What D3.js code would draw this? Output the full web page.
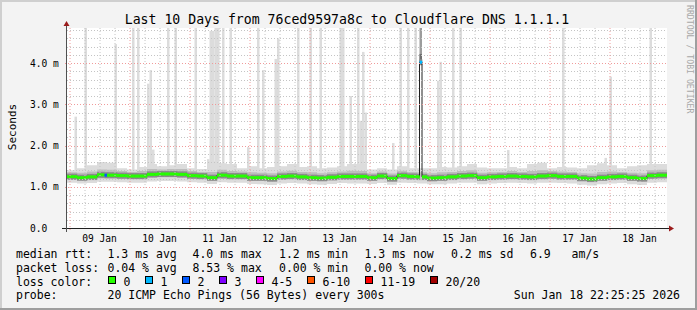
<!DOCTYPE html>
<html>
<head>
<meta charset="utf-8">
<script src="https://cdn.jsdelivr.net/npm/d3@7"></script>
<style>
  body { margin: 0; background: #f3f3f3; }
  svg { display: block; }
  text { font-family: "DejaVu Sans Mono", monospace; fill: #000; }
</style>
</head>
<body>
<svg id="chart" width="697" height="310"></svg>
<script>
// ---- data (values in ms) ----
const TITLE = 'Last 10 Days from 76ced9597a8c to Cloudflare DNS 1.1.1.1';
const START = Date.UTC(2026, 0, 8, 23);
const END = Date.UTC(2026, 0, 18, 23);
const BIN_HOURS = 4;   // smoke / median bins are 4 hours wide

const medianBins = [
  1.245, 1.22, 1.24, 1.29, 1.28, 1.27, 1.26, 1.26, 1.30, 1.31,
  1.31, 1.30, 1.27, 1.26, 1.22, 1.28, 1.26, 1.26, 1.22, 1.22,
  1.20, 1.25, 1.26, 1.24, 1.22, 1.21, 1.23, 1.25, 1.25, 1.25,
  1.22, 1.26, 1.20, 1.27, 1.25, 1.24, 1.21, 1.22, 1.24, 1.26,
  1.27, 1.22, 1.24, 1.25, 1.26, 1.25, 1.24, 1.26, 1.27, 1.25,
  1.25, 1.21, 1.19, 1.22, 1.24, 1.25, 1.22, 1.20, 1.27, 1.28
];
const smokeHi = [
  1.40, 1.45, 1.52, 1.60, 1.58, 1.45, 1.42, 1.48, 1.55, 1.50,
  1.52, 1.55, 1.45, 1.43, 1.62, 1.57, 1.55, 1.45, 1.50, 1.45,
  1.48, 1.50, 1.55, 1.48, 1.50, 1.45, 1.47, 1.50, 1.55, 1.55,
  1.42, 1.45, 1.42, 1.50, 1.45, 1.45, 1.45, 1.48, 1.47, 1.50,
  1.55, 1.47, 1.45, 1.45, 1.48, 1.45, 1.55, 1.58, 1.45, 1.48,
  1.47, 1.45, 1.52, 1.57, 1.52, 1.45, 1.50, 1.52, 1.55, 1.55
];
const smokeLo = [
  1.10, 1.08, 1.09, 1.12, 1.12, 1.11, 1.10, 1.10, 1.13, 1.14,
  1.14, 1.13, 1.11, 1.10, 1.07, 1.11, 1.10, 1.10, 1.07, 1.06,
  1.04, 1.08, 1.09, 1.08, 1.06, 1.05, 1.07, 1.09, 1.08, 1.08,
  1.07, 1.09, 1.05, 1.10, 1.09, 1.08, 1.06, 1.06, 1.08, 1.10,
  1.10, 1.06, 1.08, 1.09, 1.10, 1.09, 1.08, 1.10, 1.10, 1.09,
  1.08, 1.05, 1.03, 1.06, 1.08, 1.09, 1.06, 1.04, 1.10, 1.11
];
const midHi = [
  1.35, 1.34, 1.37, 1.42, 1.41, 1.38, 1.36, 1.38, 1.43, 1.42,
  1.43, 1.43, 1.38, 1.36, 1.36, 1.41, 1.38, 1.37, 1.35, 1.34,
  1.33, 1.37, 1.39, 1.36, 1.35, 1.33, 1.35, 1.37, 1.39, 1.38,
  1.33, 1.37, 1.32, 1.39, 1.36, 1.35, 1.33, 1.35, 1.36, 1.38,
  1.40, 1.34, 1.35, 1.36, 1.38, 1.36, 1.38, 1.40, 1.38, 1.37,
  1.36, 1.33, 1.32, 1.36, 1.37, 1.36, 1.34, 1.33, 1.40, 1.41
];
const midLo = [
  1.17, 1.15, 1.16, 1.20, 1.20, 1.19, 1.18, 1.18, 1.22, 1.23,
  1.23, 1.22, 1.19, 1.18, 1.14, 1.19, 1.18, 1.18, 1.14, 1.14,
  1.12, 1.17, 1.18, 1.16, 1.14, 1.13, 1.15, 1.17, 1.17, 1.17,
  1.14, 1.18, 1.12, 1.19, 1.17, 1.16, 1.13, 1.14, 1.16, 1.18,
  1.19, 1.14, 1.16, 1.17, 1.18, 1.17, 1.16, 1.18, 1.19, 1.17,
  1.17, 1.13, 1.11, 1.14, 1.16, 1.17, 1.14, 1.12, 1.19, 1.20
];

// single-hour max-rtt spikes (hour from START, top in ms; 5 = off the top)
const spikeHours = [3, 7, 19, 26, 28, 32, 33, 34, 40, 43, 51, 56, 57, 58, 59, 60,
  62, 65, 72, 76, 78, 83, 84, 92, 97, 101, 109, 110, 113, 116, 117, 118, 119,
  130, 133, 136, 139, 148, 149, 154, 157, 176, 198, 215, 217, 233];
const spikeTops = [2.70, 5, 4.46, 5, 5, 3.5, 3.83, 1.9, 5, 5, 5, 1.67, 4.78, 4.78, 5, 5,
  5, 5, 1.96, 5, 3.83, 4.1, 4.6, 5, 5, 5, 5, 5, 3.2, 5, 2.6, 4.27, 2.8,
  2.06, 5, 5, 5, 3.57, 4.03, 5, 5, 1.89, 5, 1.7, 3.67, 5];

// hours with packet loss (median, loss class, smoke above)
const eventHours = [15, 141];
const eventMedian = [1.28, 4.02];
const eventLoss = [2, 1];
const eventSmokeHi = [null, 5];
const eventMidHi = [null, 4.22];

const yMajor = [0, 1, 2, 3, 4];
const lossLabels = ['0', '1', '2', '3', '4-5', '6-10', '11-19', '20/20'];
const lossColors = ['#26ff00', '#00b8ff', '#0059ff', '#7e00ff', '#ff00ff', '#ff5500', '#ff0000', '#a10000'];
const lossBoxX = [108.5, 145.5, 182.5, 219.5, 256.5, 307.5, 365.5, 430.5];

const rttLabels = ['1.3 ms avg', '4.0 ms max', '1.2 ms min', '1.3 ms now', '0.2 ms sd', '6.9   am/s'];
const lossTexts = ['0.04 % avg', '8.53 % max', '0.00 % min', '0.00 % now'];
const statX = [107.5, 192.5, 279, 364.5, 451, 530];

// ---- layout ----
const W = 697, H = 310;
const PLOT = { left: 67, right: 667, top: 28, bottom: 228 };
const HOUR = 3600e3;
const tAt = h => new Date(START + h * HOUR);

const x = d3.scaleUtc().domain([START, END]).range([PLOT.left, PLOT.right]);
const y = d3.scaleLinear().domain([0, 4.85]).range([PLOT.bottom, PLOT.top]);

const svg = d3.select('#chart');

// frame
svg.append('rect').attr('width', W).attr('height', H).attr('fill', '#f3f3f3');
svg.append('rect').attr('x', 0).attr('y', 0).attr('width', W).attr('height', 2).attr('fill', '#cfcfcf');
svg.append('rect').attr('x', 0).attr('y', 0).attr('width', 2).attr('height', H).attr('fill', '#cfcfcf');
svg.append('rect').attr('x', 0).attr('y', H - 2).attr('width', W).attr('height', 2).attr('fill', '#9e9e9e');
svg.append('rect').attr('x', W - 2).attr('y', 0).attr('width', 2).attr('height', H).attr('fill', '#9e9e9e');

svg.append('clipPath').attr('id', 'plotClip')
  .append('rect')
  .attr('x', PLOT.left).attr('y', PLOT.top)
  .attr('width', PLOT.right - PLOT.left).attr('height', PLOT.bottom - PLOT.top);

svg.append('rect')
  .attr('x', PLOT.left).attr('y', PLOT.top)
  .attr('width', PLOT.right - PLOT.left).attr('height', PLOT.bottom - PLOT.top)
  .attr('fill', '#ffffff');

const plot = svg.append('g').attr('clip-path', 'url(#plotClip)');

// table of bins (last one repeated so the step reaches the right edge)
const bins = medianBins.map((m, i) => ({
  t: tAt(i * BIN_HOURS), m, hi: smokeHi[i], lo: smokeLo[i], mh: midHi[i], ml: midLo[i]
}));
bins.push(Object.assign({}, bins[bins.length - 1], { t: new Date(END) }));

// hourly median with loss class
const nHours = (END - START) / HOUR;
const hourly = d3.range(nHours).map(h => {
  const e = eventHours.indexOf(h);
  return {
    h,
    m: e >= 0 ? eventMedian[e] : medianBins[Math.floor(h / BIN_HOURS)],
    loss: e >= 0 ? eventLoss[e] : 0,
    smokeHi: e >= 0 ? eventSmokeHi[e] : null,
    midHi: e >= 0 ? eventMidHi[e] : null
  };
});
const hw = h => x(tAt(h + 1)) - x(tAt(h));

// spikes of the lightest smoke
plot.append('g').selectAll('rect')
  .data(spikeHours.map((h, i) => ({ h, top: spikeTops[i] })))
  .join('rect')
  .attr('x', d => x(tAt(d.h)))
  .attr('width', d => hw(d.h))
  .attr('y', d => y(d.top))
  .attr('height', d => y(hourly[d.h].m) - y(d.top))
  .attr('fill', '#dcdcdc');

// smoke bands
const band = (lo, hi) => d3.area().curve(d3.curveStepAfter)
  .x(d => x(d.t)).y0(d => y(d[lo])).y1(d => y(d[hi]));

plot.append('path').datum(bins).attr('d', band('lo', 'hi')).attr('fill', '#dcdcdc');
plot.append('path').datum(bins).attr('d', band('ml', 'mh')).attr('fill', '#bdbdbd');

// smoke above loss events
const ev = hourly.filter(d => d.smokeHi !== null);
plot.append('g').selectAll('rect.evs')
  .data(ev).join('rect')
  .attr('x', d => x(tAt(d.h))).attr('width', d => hw(d.h))
  .attr('y', d => y(d.smokeHi)).attr('height', d => y(d.m) - y(d.smokeHi))
  .attr('fill', '#9c9c9c');
plot.append('g').selectAll('rect.evm')
  .data(ev).join('rect')
  .attr('x', d => x(tAt(d.h))).attr('width', d => hw(d.h))
  .attr('y', d => y(d.midHi)).attr('height', d => y(d.m) - y(d.midHi))
  .attr('fill', '#6e6e6e');

// dark smoke right around the median
plot.append('g').selectAll('rect')
  .data(hourly).join('rect')
  .attr('x', d => x(tAt(d.h))).attr('width', d => hw(d.h) + 0.3)
  .attr('y', d => y(d.m) - 3).attr('height', 6)
  .attr('fill', '#8a8a8a');

// grid
const grid = svg.append('g');
const sixHours = d3.utcHour.every(6).range(new Date(START), new Date(END + 1))
  .filter(d => d.getUTCHours() !== 0);
const days = d3.utcDay.range(new Date(START), new Date(END + 1));

grid.selectAll('line.vmin').data(sixHours).join('line')
  .attr('x1', d => x(d) + 0.5).attr('x2', d => x(d) + 0.5)
  .attr('y1', PLOT.top).attr('y2', PLOT.bottom)
  .attr('stroke', '#c4c4c4').attr('stroke-dasharray', '1,2');
const yMinor = d3.range(1, 25).filter(i => i % 5 !== 0).map(i => i * 0.2);
grid.selectAll('line.hmin').data(yMinor).join('line')
  .attr('x1', PLOT.left).attr('x2', PLOT.right)
  .attr('y1', d => Math.round(y(d)) + 0.5).attr('y2', d => Math.round(y(d)) + 0.5)
  .attr('stroke', '#c4c4c4').attr('stroke-dasharray', '1,2');
grid.selectAll('line.vmaj').data(days).join('line')
  .attr('x1', d => x(d) + 0.5).attr('x2', d => x(d) + 0.5)
  .attr('y1', PLOT.top).attr('y2', PLOT.bottom + 3)
  .attr('stroke', '#f09a9a').attr('stroke-dasharray', '1,2');
grid.selectAll('line.hmaj').data(yMajor.slice(1)).join('line')
  .attr('x1', PLOT.left - 2).attr('x2', PLOT.right)
  .attr('y1', d => Math.round(y(d)) + 0.5).attr('y2', d => Math.round(y(d)) + 0.5)
  .attr('stroke', '#f09a9a').attr('stroke-dasharray', '1,2');

// median line and loss-coloured band
plot.append('path').datum(hourly.concat([{ h: nHours, m: hourly[nHours - 1].m }]))
  .attr('d', d3.line().curve(d3.curveStepAfter).x(d => x(tAt(d.h))).y(d => y(d.m)))
  .attr('fill', 'none').attr('stroke', '#202020').attr('stroke-width', 1);
plot.append('g').selectAll('rect')
  .data(hourly).join('rect')
  .attr('x', d => x(tAt(d.h))).attr('width', d => hw(d.h) + 0.3)
  .attr('y', d => y(d.m) - 1.5).attr('height', 3)
  .attr('fill', d => lossColors[d.loss]);

// axes
const axis = svg.append('g');
axis.append('line').attr('x1', 62).attr('x2', 669).attr('y1', PLOT.bottom + 0.5).attr('y2', PLOT.bottom + 0.5)
  .attr('stroke', '#202020');
axis.append('line').attr('x1', PLOT.left - 0.5).attr('x2', PLOT.left - 0.5).attr('y1', 232).attr('y2', 26)
  .attr('stroke', '#505050');
axis.append('path').attr('d', 'M669,225.5L674,228.5L669,231.5Z').attr('fill', '#9b1c1c');
axis.append('path').attr('d', 'M63.5,26L66.5,21L69.5,26Z').attr('fill', '#9b1c1c');

axis.selectAll('text.ylab').data(yMajor).join('text')
  .attr('x', 30).attr('y', d => y(d) + 3.5)
  .style('font-size', '9.6px')
  .text(d => d === 0 ? '0.0' : d3.format('.1f')(d) + ' m');

axis.selectAll('text.xlab').data(days.filter(d => +d + 12 * HOUR < END)).join('text')
  .attr('x', d => x(new Date(+d + 12 * HOUR)))
  .attr('y', 241.5)
  .attr('text-anchor', 'middle')
  .style('font-size', '9.6px')
  .text(d => d3.utcFormat('%d %b')(d));

// titles
svg.append('text').attr('x', 347).attr('y', 24).attr('text-anchor', 'middle')
  .style('font-size', '13.2px').text(TITLE);
svg.append('text').attr('transform', 'translate(15.5,127) rotate(-90)').attr('text-anchor', 'middle')
  .style('font-size', '11px').text('Seconds');
svg.append('text').attr('transform', 'translate(686.5,5) rotate(90)')
  .style('font-size', '8.2px').style('fill', '#a8a8a8').text('RRDTOOL / TOBI OETIKER');

// legend
const legend = svg.append('g').style('font-size', '11.5px');
const rowY = [257.7, 271.6, 285.5, 299.3];
legend.append('text').attr('x', 16).attr('y', rowY[0]).text('median rtt:');
legend.selectAll('text.rtt').data(rttLabels).join('text')
  .attr('x', (d, i) => statX[i]).attr('y', rowY[0]).attr('xml:space', 'preserve')
  .style('white-space', 'pre').text(d => d);
legend.append('text').attr('x', 16).attr('y', rowY[1]).text('packet loss:');
legend.selectAll('text.loss').data(lossTexts).join('text')
  .attr('x', (d, i) => statX[i]).attr('y', rowY[1]).text(d => d);
legend.append('text').attr('x', 16).attr('y', rowY[2]).text('loss color:');
legend.selectAll('rect').data(lossColors).join('rect')
  .attr('x', (d, i) => lossBoxX[i]).attr('y', 276.5).attr('width', 7).attr('height', 7)
  .attr('fill', d => d).attr('stroke', '#000');
legend.selectAll('text.lc').data(lossLabels).join('text')
  .attr('x', (d, i) => lossBoxX[i] + 15).attr('y', rowY[2]).text(d => d);
legend.append('text').attr('x', 16).attr('y', rowY[3]).text('probe:');
legend.append('text').attr('x', 107.5).attr('y', rowY[3]).text('20 ICMP Echo Pings (56 Bytes) every 300s');
legend.append('text').attr('x', 680).attr('y', rowY[3]).attr('text-anchor', 'end').text('Sun Jan 18 22:25:25 2026');
</script>
</body>
</html>
